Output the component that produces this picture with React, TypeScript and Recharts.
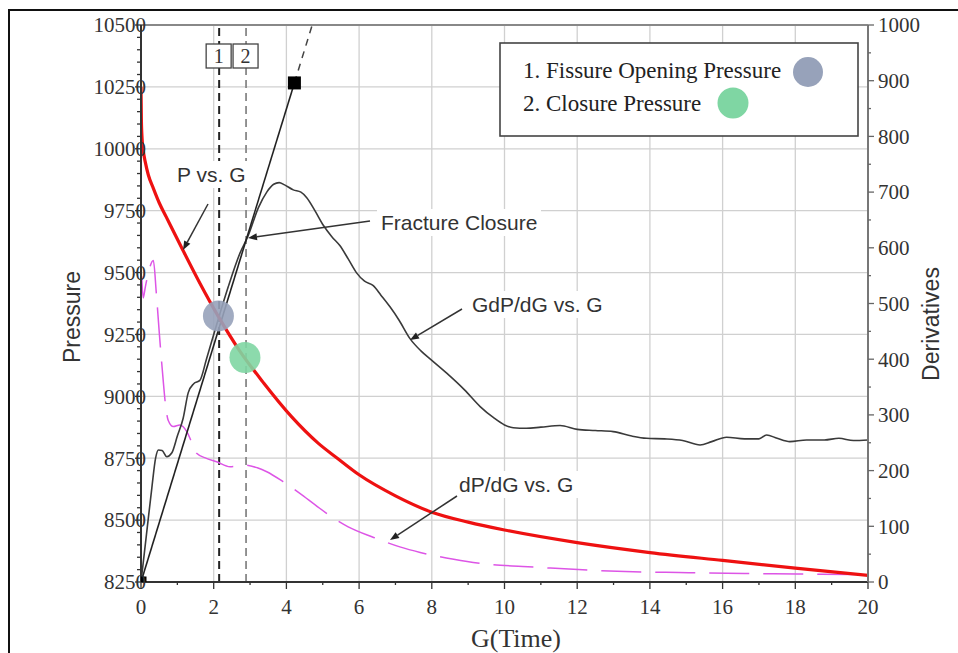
import React from 'react';
import { ComposedChart, Line, XAxis, YAxis, ReferenceLine } from 'recharts';

const W = 958;
const H = 653;

// ---- ticks ----
const gTicks = [0, 1, 2, 3, 4, 5, 6, 7, 8, 9, 10, 11, 12, 13, 14, 15, 16, 17, 18, 19, 20];
const pressureTicks = [
  8250, 8300, 8350, 8400, 8450, 8500, 8550, 8600, 8650, 8700, 8750, 8800, 8850, 8900, 8950,
  9000, 9050, 9100, 9150, 9200, 9250, 9300, 9350, 9400, 9450, 9500, 9550, 9600, 9650, 9700,
  9750, 9800, 9850, 9900, 9950, 10000, 10050, 10100, 10150, 10200, 10250, 10300, 10350, 10400,
  10450, 10500,
];
const derivTicks = [0, 50, 100, 150, 200, 250, 300, 350, 400, 450, 500, 550, 600, 650, 700, 750, 800, 850, 900, 950, 1000];
const gridG = [2, 4, 6, 8, 10, 12, 14, 16, 18];
const gridP = [8500, 8750, 9000, 9250, 9500, 9750, 10000, 10250];

// ---- series ----
const pVsG = [
  { g: 0, p: 10250 }, { g: 0.01, p: 10120 }, { g: 0.03, p: 10040 }, { g: 0.06, p: 9995 },
  { g: 0.12, p: 9945 }, { g: 0.2, p: 9895 }, { g: 0.34, p: 9840 }, { g: 0.5, p: 9782 },
  { g: 0.69, p: 9726 }, { g: 1.15, p: 9591 }, { g: 1.62, p: 9457 }, { g: 2.13, p: 9322 },
  { g: 2.7, p: 9187 }, { g: 3.38, p: 9053 }, { g: 4.14, p: 8918 }, { g: 4.88, p: 8810 },
  { g: 5.4, p: 8750 }, { g: 6, p: 8683 }, { g: 7, p: 8598 }, { g: 8, p: 8532 },
  { g: 9, p: 8492 }, { g: 10, p: 8460 }, { g: 12, p: 8409 }, { g: 14, p: 8369 },
  { g: 16, p: 8337 }, { g: 18, p: 8306 }, { g: 20, p: 8277 },
];

const gdpdg = [
  { g: 0, d: 0 }, { g: 0.15, d: 85 }, { g: 0.3, d: 170 }, { g: 0.4, d: 222 }, { g: 0.48, d: 237 },
  { g: 0.58, d: 236 }, { g: 0.71, d: 225 }, { g: 0.85, d: 232 }, { g: 1.0, d: 262 }, { g: 1.16, d: 294 },
  { g: 1.3, d: 340 }, { g: 1.45, d: 356 }, { g: 1.62, d: 362 }, { g: 1.8, d: 400 }, { g: 2.08, d: 462 },
  { g: 2.4, d: 530 }, { g: 2.72, d: 590 }, { g: 2.95, d: 622 }, { g: 3.23, d: 672 }, { g: 3.46, d: 700 },
  { g: 3.65, d: 714 }, { g: 3.8, d: 717 }, { g: 3.95, d: 713 }, { g: 4.19, d: 704 }, { g: 4.4, d: 700 },
  { g: 4.56, d: 690 }, { g: 4.8, d: 665 }, { g: 5.02, d: 640 }, { g: 5.25, d: 620 }, { g: 5.47, d: 604 },
  { g: 5.7, d: 580 }, { g: 5.93, d: 555 }, { g: 6.15, d: 540 }, { g: 6.39, d: 532 }, { g: 6.6, d: 515 },
  { g: 6.85, d: 494 }, { g: 7.1, d: 470 }, { g: 7.4, d: 437 }, { g: 7.7, d: 415 }, { g: 8.0, d: 398 },
  { g: 8.41, d: 375 }, { g: 8.9, d: 345 }, { g: 9.33, d: 315 }, { g: 9.7, d: 295 }, { g: 10.0, d: 282 },
  { g: 10.24, d: 277 }, { g: 10.6, d: 276 }, { g: 11.0, d: 278 }, { g: 11.53, d: 281 }, { g: 12.0, d: 274 },
  { g: 12.5, d: 272 }, { g: 12.99, d: 270 }, { g: 13.5, d: 262 }, { g: 13.91, d: 258 }, { g: 14.4, d: 257 },
  { g: 14.9, d: 254 }, { g: 15.38, d: 246 }, { g: 15.7, d: 252 }, { g: 16.11, d: 260 }, { g: 16.6, d: 257 },
  { g: 17.0, d: 257 }, { g: 17.21, d: 264 }, { g: 17.5, d: 258 }, { g: 17.85, d: 252 }, { g: 18.31, d: 255 },
  { g: 18.8, d: 255 }, { g: 19.2, d: 258 }, { g: 19.6, d: 254 }, { g: 20, d: 255 },
];

const dpdg = [
  { g: 0.02, d: 549 }, { g: 0.06, d: 510 }, { g: 0.12, d: 530 }, { g: 0.22, d: 560 }, { g: 0.34, d: 577 },
  { g: 0.42, d: 520 }, { g: 0.5, d: 450 }, { g: 0.6, d: 370 }, { g: 0.68, d: 315 }, { g: 0.75, d: 290 },
  { g: 0.89, d: 279 }, { g: 1.07, d: 282 }, { g: 1.26, d: 270 }, { g: 1.4, d: 250 }, { g: 1.53, d: 231 },
  { g: 1.8, d: 222 }, { g: 2.08, d: 216 }, { g: 2.45, d: 207 }, { g: 2.86, d: 210 }, { g: 3.2, d: 205 },
  { g: 3.46, d: 198 }, { g: 3.91, d: 180 }, { g: 4.37, d: 159 }, { g: 4.8, d: 138 }, { g: 5.24, d: 117 },
  { g: 5.7, d: 99 }, { g: 6.4, d: 80 }, { g: 7.12, d: 63 }, { g: 7.68, d: 53 }, { g: 8.4, d: 43 },
  { g: 9.14, d: 35 }, { g: 9.69, d: 31 }, { g: 10.5, d: 28 }, { g: 11.25, d: 25 }, { g: 12.4, d: 21 },
  { g: 13.54, d: 18.5 }, { g: 14.8, d: 17 }, { g: 16.11, d: 15.6 }, { g: 17.4, d: 14.8 }, { g: 18.68, d: 14 },
  { g: 20, d: 13.5 },
];

const tangent = [{ g: 0, d: 0 }, { g: 4.22, d: 896 }];
const tangentExt = [{ g: 4.22, d: 896 }, { g: 4.71, d: 1000 }];
const fissureOpening = [{ g: 2.13, p: 9325 }];
const closurePoint = [{ g: 2.86, p: 9157 }];
const markerLines = [
  { g: 2.15, label: '1' },
  { g: 2.89, label: '2' },
];

const SERIF = '"Liberation Serif", "Times New Roman", serif';
const SANS = '"Liberation Sans", Arial, sans-serif';

const LeftTick = (props: any) => {
  const { x, y, payload } = props;
  const v = payload.value;
  const major = v % 250 === 0;
  return (
    <g>
      <line x1={x} x2={x - (major ? 6 : 4)} y1={y} y2={y} stroke="#333" strokeWidth={1.3} />
      {major && (
        <text x={x + 5} y={y} dy="0.35em" textAnchor="end" fontFamily={SERIF} fontSize={21} fill="#333">
          {v}
        </text>
      )}
    </g>
  );
};

const RightTick = (props: any) => {
  const { x, y, payload } = props;
  const v = payload.value;
  const major = v % 100 === 0;
  return (
    <g>
      <line x1={x} x2={x + (major ? 6 : 3)} y1={y} y2={y} stroke="#666" strokeWidth={1.3} />
      {major && (
        <text x={x + 10} y={y} dy="0.35em" textAnchor="start" fontFamily={SERIF} fontSize={21} fill="#333">
          {v}
        </text>
      )}
    </g>
  );
};

const BottomTick = (props: any) => {
  const { x, y, payload } = props;
  const v = payload.value;
  const major = v % 2 === 0;
  return (
    <g>
      <line x1={x} x2={x} y1={y} y2={y + (major ? 7 : 3)} stroke="#333" strokeWidth={1.3} />
      {major && (
        <text x={x} y={y + 32} textAnchor="middle" fontFamily={SERIF} fontSize={21} fill="#333">
          {v}
        </text>
      )}
    </g>
  );
};

const BoxLabel = (props: any) => {
  const { viewBox, text } = props;
  if (!viewBox) return null;
  const cx = viewBox.x;
  const top = viewBox.y + 19;
  return (
    <g>
      <rect x={cx - 13} y={top} width={25} height={24} fill="#fff" stroke="#444" strokeWidth={1.3} />
      <text x={cx - 0.5} y={top + 19} textAnchor="middle" fontFamily={SERIF} fontSize={20} fill="#333">
        {text}
      </text>
    </g>
  );
};

const squareDot = (props: any) => {
  const { cx, cy, index } = props;
  const s = index === 0 ? 11 : 13;
  return <rect key={`sq${index}`} x={cx - s / 2} y={cy - s / 2} width={s} height={s} fill="#000" />;
};

const makeCircle = (fill: string) => (props: any) => {
  const { cx, cy, index } = props;
  return <circle key={`c${index}`} cx={cx} cy={cy} r={15.5} fill={fill} fillOpacity={0.9} />;
};

function Arrow({ x1, y1, x2, y2 }: { x1: number; y1: number; x2: number; y2: number }) {
  const ang = Math.atan2(y2 - y1, x2 - x1);
  const L = 9;
  const hw = 3.5;
  const bx = x2 - L * Math.cos(ang);
  const by = y2 - L * Math.sin(ang);
  const px = -Math.sin(ang) * hw;
  const py = Math.cos(ang) * hw;
  return (
    <g>
      <line x1={x1} y1={y1} x2={bx} y2={by} stroke="#333" strokeWidth={1.5} />
      <polygon points={`${x2},${y2} ${bx + px},${by + py} ${bx - px},${by - py}`} fill="#222" />
    </g>
  );
}

function Note({ x, y, w, text }: { x: number; y: number; w: number; text: string }) {
  return (
    <g>
      <rect x={x - 4} y={y - 21} width={w + 8} height={27} fill="#fff" />
      <text x={x} y={y} fontFamily={SANS} fontSize={21} fill="#333">{text}</text>
    </g>
  );
}

export default function App() {
  return (
    <div style={{ position: 'fixed', left: 0, top: 0, width: W, height: H, background: '#fff', overflow: 'hidden' }}>
      <ComposedChart width={W} height={H} margin={{ top: 25, right: 0, bottom: 0, left: 0 }}>
        <XAxis
          type="number"
          dataKey="g"
          domain={[0, 20]}
          ticks={gTicks}
          interval={0}
          height={71}
          tickSize={0}
          tickMargin={0}
          tickLine={false}
          axisLine={{ stroke: '#333', strokeWidth: 2 }}
          tick={<BottomTick />}
          allowDataOverflow
        />
        <YAxis
          yAxisId="left"
          orientation="left"
          type="number"
          dataKey="p"
          domain={[8250, 10500]}
          ticks={pressureTicks}
          interval={0}
          width={141}
          tickSize={0}
          tickMargin={0}
          tickLine={false}
          axisLine={{ stroke: '#333', strokeWidth: 2 }}
          tick={<LeftTick />}
          allowDataOverflow
        />
        <YAxis
          yAxisId="right"
          orientation="right"
          type="number"
          dataKey="d"
          domain={[0, 1000]}
          ticks={derivTicks}
          interval={0}
          width={90}
          tickSize={0}
          tickMargin={0}
          tickLine={false}
          axisLine={{ stroke: '#777', strokeWidth: 2 }}
          tick={<RightTick />}
          allowDataOverflow
        />

        {gridG.map((g) => (
          <ReferenceLine key={`vg${g}`} x={g} yAxisId="left" stroke="#d0d0d0" strokeWidth={1.3} />
        ))}
        {gridP.map((p) => (
          <ReferenceLine key={`hg${p}`} y={p} yAxisId="left" stroke="#d0d0d0" strokeWidth={1.3} />
        ))}
        <ReferenceLine y={10500} yAxisId="left" stroke="#888" strokeWidth={2} />

        {markerLines.map((m, i) => (
          <ReferenceLine
            key={`ml${m.label}`}
            x={m.g}
            yAxisId="left"
            stroke={i === 0 ? '#222' : '#888'}
            strokeWidth={i === 0 ? 2 : 1.8}
            strokeDasharray="8 5"
            label={<BoxLabel text={m.label} />}
          />
        ))}

        <Line
          data={fissureOpening}
          yAxisId="left"
          dataKey="p"
          stroke="none"
          dot={makeCircle('#97a2ba')}
          activeDot={false}
          isAnimationActive={false}
        />
        <Line
          data={closurePoint}
          yAxisId="left"
          dataKey="p"
          stroke="none"
          dot={makeCircle('#7fd6a3')}
          activeDot={false}
          isAnimationActive={false}
        />

        <Line
          data={dpdg}
          yAxisId="right"
          dataKey="d"
          type="monotone"
          stroke="#dd55e6"
          strokeWidth={1.5}
          strokeDasharray="40 14"
          dot={false}
          activeDot={false}
          isAnimationActive={false}
        />
        <Line
          data={gdpdg}
          yAxisId="right"
          dataKey="d"
          type="monotone"
          stroke="#3a3a3a"
          strokeWidth={1.6}
          dot={false}
          activeDot={false}
          isAnimationActive={false}
        />
        <Line
          data={tangentExt}
          yAxisId="right"
          dataKey="d"
          type="linear"
          stroke="#444"
          strokeWidth={1.5}
          strokeDasharray="7 6"
          dot={false}
          activeDot={false}
          isAnimationActive={false}
        />
        <Line
          data={tangent}
          yAxisId="right"
          dataKey="d"
          type="linear"
          stroke="#222"
          strokeWidth={1.6}
          dot={squareDot}
          activeDot={false}
          isAnimationActive={false}
        />
        <Line
          data={pVsG}
          yAxisId="left"
          dataKey="p"
          type="monotone"
          stroke="#ee1111"
          strokeWidth={3.2}
          dot={false}
          activeDot={false}
          isAnimationActive={false}
        />
      </ComposedChart>

      <svg
        width={W}
        height={H}
        style={{ position: 'absolute', left: 0, top: 0, pointerEvents: 'none' }}
      >
        {/* outer frame */}
        <line x1={8} y1={10} x2={W} y2={10} stroke="#111" strokeWidth={2} />
        <line x1={9} y1={10} x2={9} y2={H} stroke="#111" strokeWidth={2} />

        {/* axis titles */}
        <text
          transform="translate(72,317) rotate(-90)"
          textAnchor="middle"
          dominantBaseline="central"
          fontFamily={SANS}
          fontSize={23}
          fill="#333"
        >
          Pressure
        </text>
        <text
          transform="translate(931,324) rotate(-90)"
          textAnchor="middle"
          dominantBaseline="central"
          fontFamily={SANS}
          fontSize={23}
          fill="#333"
        >
          Derivatives
        </text>
        <text x={516} y={647} textAnchor="middle" fontFamily={SERIF} fontSize={26} fill="#333">
          G(Time)
        </text>

        {/* legend box */}
        <rect x={500} y={43} width={358} height={93} fill="#fff" stroke="#444" strokeWidth={1.6} />
        <text x={523} y={78} fontFamily={SERIF} fontSize={23} fill="#222">
          1. Fissure Opening Pressure
        </text>
        <circle cx={808} cy={72} r={15} fill="#97a2ba" />
        <text x={523} y={111} fontFamily={SERIF} fontSize={23} fill="#222">
          2. Closure Pressure
        </text>
        <circle cx={733} cy={103} r={15.5} fill="#7fd6a3" />

        {/* annotations */}
        <Note x={177} y={182} w={70} text="P vs. G" />
        <Arrow x1={208} y1={204} x2={183} y2={250} />
        <Note x={381} y={230} w={156} text="Fracture Closure" />
        <Arrow x1={370} y1={221} x2={248} y2={238} />
        <Note x={472} y={312} w={130} text="GdP/dG vs. G" />
        <Arrow x1={462} y1={309} x2={410} y2={340} />
        <Note x={459} y={492} w={116} text="dP/dG vs. G" />
        <Arrow x1={457} y1={496} x2={390} y2={540} />
      </svg>
    </div>
  );
}
